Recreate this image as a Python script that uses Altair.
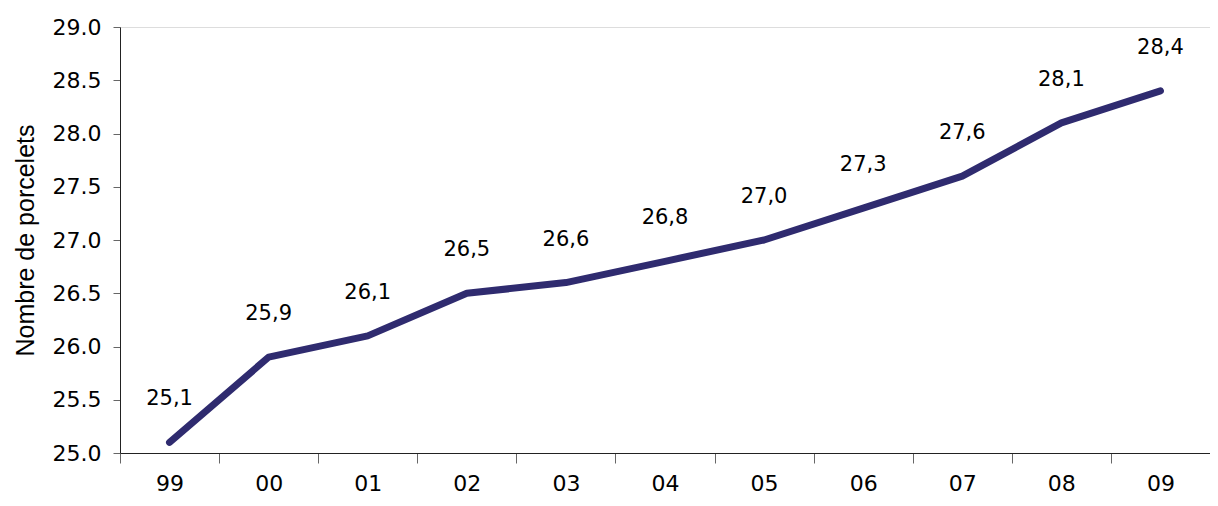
import altair as alt
import pandas as pd

years = ["99", "00", "01", "02", "03", "04", "05", "06", "07", "08", "09"]
values = [25.1, 25.9, 26.1, 26.5, 26.6, 26.8, 27.0, 27.3, 27.6, 28.1, 28.4]
y_ticks = [25.0, 25.5, 26.0, 26.5, 27.0, 27.5, 28.0, 28.5, 29.0]
y_title = "Nombre de porcelets"

df = pd.DataFrame({
    "year": years,
    "value": values,
    "label": [f"{v:.1f}".replace(".", ",") for v in values],
})

LINE = "#2F2B6F"

x_enc = alt.X(
    "year:N",
    sort=years,
    bandPosition=0.5,
    scale=alt.Scale(type="band", paddingInner=0, paddingOuter=0),
    axis=alt.Axis(
        title=None,
        labelAngle=0,
        tickBand="extent",
        tickSize=10,
        labelPadding=10,
        labelFont="DejaVu Sans",
        labelFontSize=22,
        labelColor="#000000",
        domainColor="#222222",
        tickColor="#666666",
        grid=False,
    ),
)

y_enc = alt.Y(
    "value:Q",
    scale=alt.Scale(domain=[25, 29], nice=False, zero=False),
    axis=alt.Axis(
        title=y_title,
        values=y_ticks,
        format=".1f",
        tickSize=7,
        labelPadding=12,
        labelFont="DejaVu Sans",
        labelFontSize=22,
        labelColor="#000000",
        titleFont="Liberation Sans",
        titleFontSize=25,
        titleFontWeight="normal",
        titleColor="#000000",
        titlePadding=14,
        domainColor="#222222",
        tickColor="#666666",
        grid=False,
    ),
)

line = alt.Chart(df).mark_line(
    color=LINE, strokeWidth=7, strokeCap="round", strokeJoin="round"
).encode(x=x_enc, y=y_enc)

text = alt.Chart(df).mark_text(
    dy=-43, font="DejaVu Sans", fontSize=21, color="#000000", baseline="middle"
).encode(
    x=alt.X("year:N", sort=years, bandPosition=0.5),
    y=alt.Y("value:Q"),
    text="label:N",
)

chart = (line + text).properties(
    width=1090,
    height=426,
    autosize=alt.AutoSizeParams(type="none"),
    padding={"left": 112, "top": 19, "right": 0, "bottom": 45},
).configure_view(stroke=None).configure(background="white")

chart.save("out.html", embed_options={"renderer": "svg", "actions": False})
